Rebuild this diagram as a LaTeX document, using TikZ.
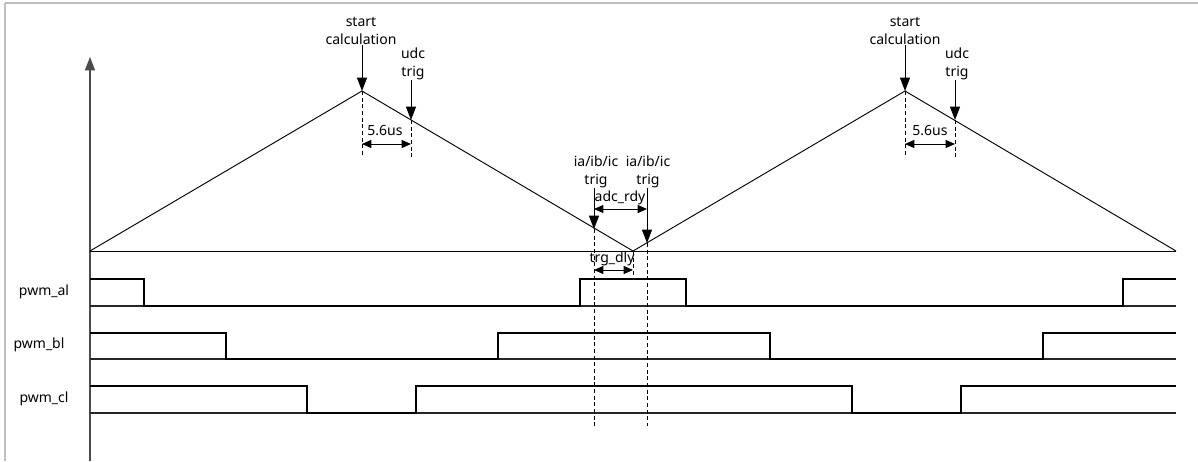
\documentclass[tikz,border=0pt]{standalone}
\usepackage{fontspec}
\setmainfont{Noto Sans}
\usetikzlibrary{arrows.meta}
\begin{document}
\begin{tikzpicture}[x=0.75pt,y=-0.75pt,
  lbl/.style={font=\fontsize{10.5pt}{13pt}\selectfont,align=center,inner sep=0pt},
  wave/.style={line width=0.8pt,black},
  ref/.style={line width=1pt,black!85},
  dim/.style={line width=0.6pt,dash pattern=on 3pt off 2pt},
  trigarr/.style={line width=0.75pt,-{Triangle[length=10pt,width=7.5pt]}},
  dimarr/.style={line width=0.75pt,{Triangle[length=7pt,width=6pt]}-{Triangle[length=7pt,width=6pt]}},
  frame/.style={line width=1.5pt,black!25}]
\useasboundingbox (0,0) rectangle (1198,461);
% frame
\draw[frame] (5,2.5) -- (1198,2.5);
\draw[frame] (5,2.5) -- (5,461);
% key points
\coordinate (O) at (90,251);
\coordinate (P1) at (362,91);
\coordinate (V) at (633,251);
\coordinate (P2) at (905,91);
\coordinate (E) at (1176,251);
\coordinate (AxB) at (90,461);
\coordinate (AxT) at (90,57);
% axis
\draw[line width=1.1pt,black!70,-{Triangle[length=10pt,width=7.5pt]}] (AxB) -- (AxT);
% baseline and triangle wave
\draw[line width=0.7pt] (O) -- (E);
\draw[line width=0.7pt] (O) -- (P1) -- (V) -- (P2) -- (E);
% pwm reference lines
\draw[ref] (90,306) -- (1176,306);
\draw[ref] (90,359) -- (1176,359);
\draw[ref] (90,413) -- (1176,413);
% pwm signals
\draw[wave] (90,279) -- (144,279) -- (144,306) -- (580,306) -- (580,279) -- (686,279) -- (686,306) -- (1123,306) -- (1123,279) -- (1176,279);
\draw[wave] (90,333) -- (226,333) -- (226,359) -- (498,359) -- (498,333) -- (770,333) -- (770,359) -- (1043,359) -- (1043,333) -- (1176,333);
\draw[wave] (90,386) -- (307,386) -- (307,413) -- (416,413) -- (416,386) -- (852,386) -- (852,413) -- (961,413) -- (961,386) -- (1176,386);
% labels
\node[lbl] (la) at (44,292) {pwm\_al};
\node[lbl] (lb) at (39,345) {pwm\_bl};
\node[lbl] (lc) at (44,399) {pwm\_cl};
% first peak
\coordinate (U1) at (411,120);
\coordinate (D1a) at (362,157);
\coordinate (D1b) at (411,157);
\node[lbl] (sc1) at (361,31) {start\\calculation};
\node[lbl] (udc1) at (413,64) {udc\\trig};
\draw[trigarr] (sc1.south -| P1) -- (P1);
\draw[trigarr] (udc1.south -| U1) -- (U1);
\draw[dim] (P1) -- (D1a);
\draw[dim] (U1) -- (D1b);
\coordinate (M1a) at (362,144);
\coordinate (M1b) at (411,144);
\draw[dimarr] (M1a) -- (M1b);
\node[lbl] (t1) at (385,131) {5.6us};
% second peak
\coordinate (U2) at (955,120);
\coordinate (D2a) at (905,157);
\coordinate (D2b) at (955,157);
\node[lbl] (sc2) at (905,31) {start\\calculation};
\node[lbl] (udc2) at (957,64) {udc\\trig};
\draw[trigarr] (sc2.south -| P2) -- (P2);
\draw[trigarr] (udc2.south -| U2) -- (U2);
\draw[dim] (P2) -- (D2a);
\draw[dim] (U2) -- (D2b);
\coordinate (M2a) at (905,144);
\coordinate (M2b) at (955,144);
\draw[dimarr] (M2a) -- (M2b);
\node[lbl] (t2) at (930,131) {5.6us};
% valley triggers
\coordinate (Ta) at (594,229);
\coordinate (Tb) at (647,243);
\coordinate (Ba) at (594,426);
\coordinate (Bb) at (647,426);
\coordinate (Vd) at (633,279);
\node[lbl] (ia1) at (596,172) {ia/ib/ic\\trig};
\node[lbl] (ia2) at (648,172) {ia/ib/ic\\trig};
\draw[trigarr] (ia1.south -| Ta) -- (Ta);
\draw[trigarr] (ia2.south -| Tb) -- (Tb);
\draw[dim] (Ta) -- (Ba);
\draw[dim] (Tb) -- (Bb);
\draw[dim] (V) -- (Vd);
\coordinate (Ra) at (594,209);
\coordinate (Rb) at (647,209);
\draw[dimarr] (Ra) -- (Rb);
\node[lbl] (adc) at (620,198) {adc\_rdy};
\coordinate (Ga) at (594,270);
\coordinate (Gb) at (633,270);
\draw[dimarr] (Ga) -- (Gb);
\node[lbl] (trg) at (612,259) {trg\_dly};
\end{tikzpicture}
\end{document}
